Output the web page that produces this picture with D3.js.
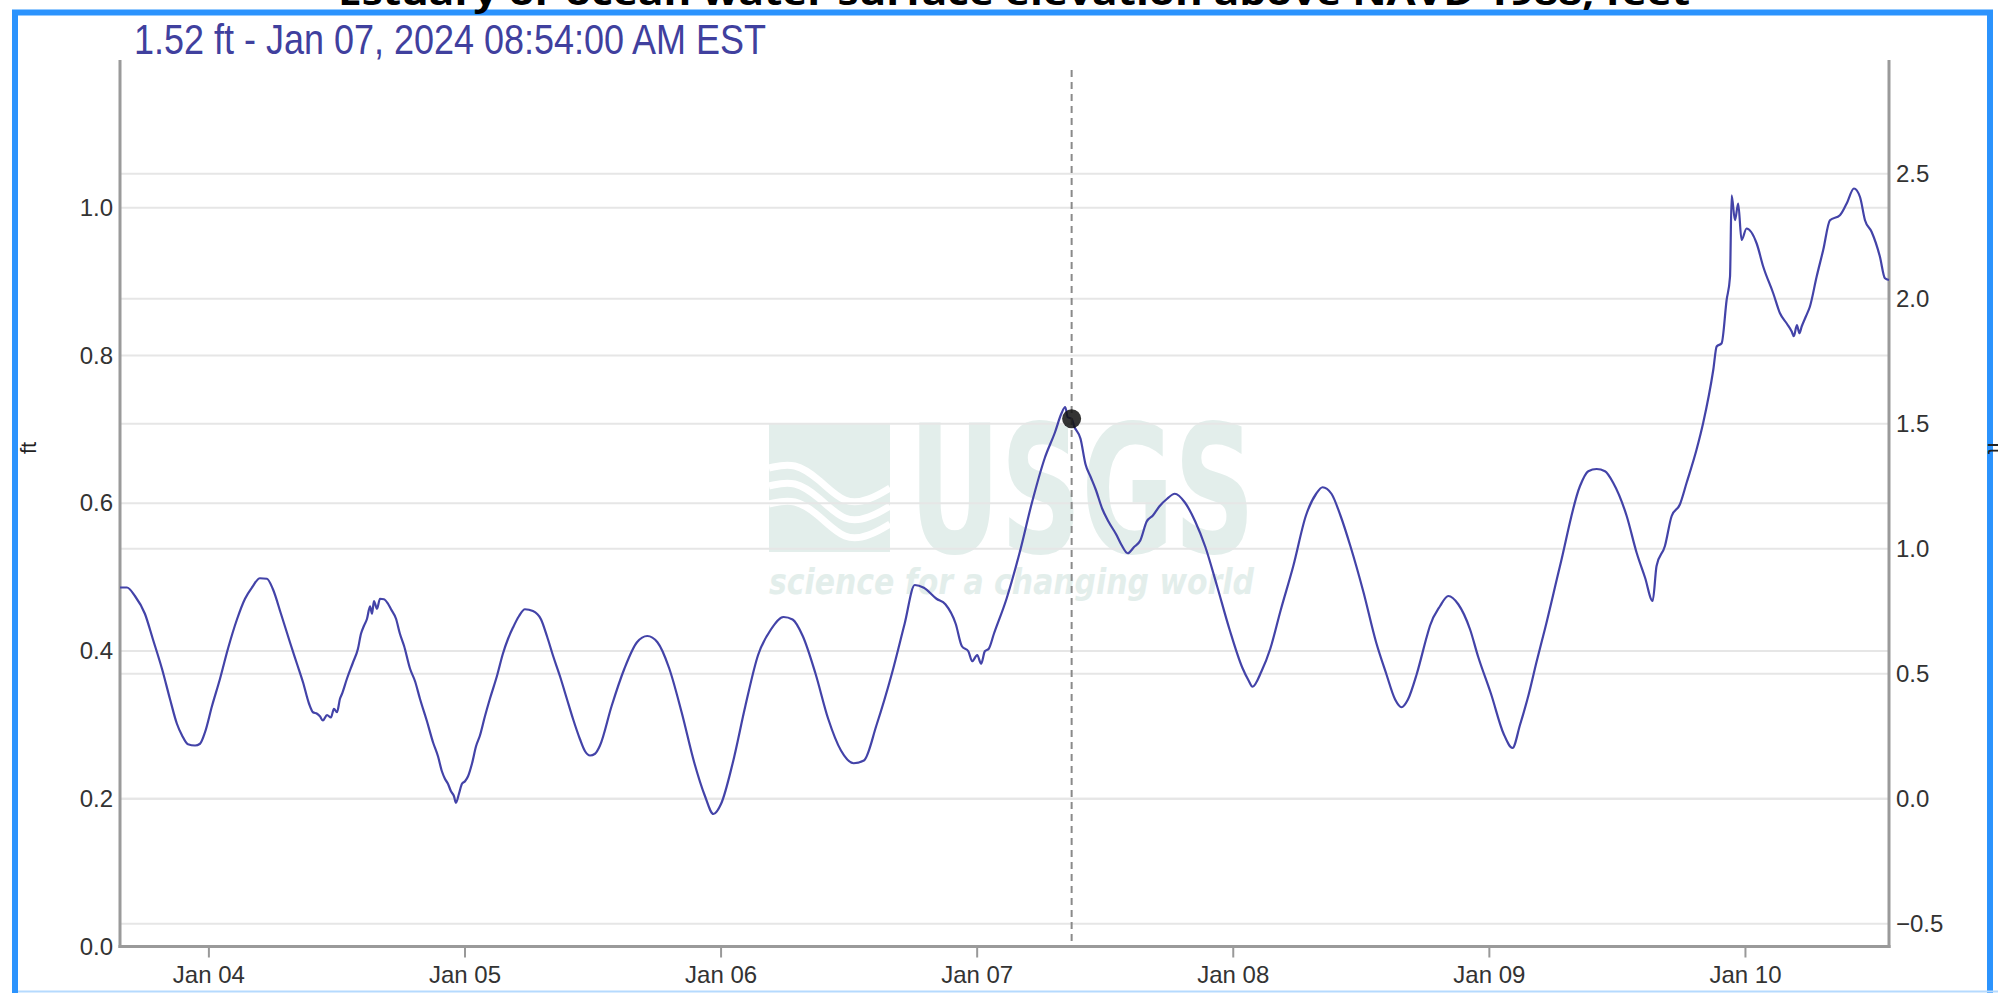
<!DOCTYPE html>
<html><head><meta charset="utf-8">
<script src="https://cdn.jsdelivr.net/npm/d3@7"></script>
<style>body{margin:0;background:#fff;overflow:hidden}svg{display:block}</style>
</head><body>
<svg id="chart" width="1998" height="993"></svg>
<script>
// ---------- data ----------
const titleText = "Estuary or ocean water surface elevation above NAVD 1988, feet";
const headerText = "1.52 ft - Jan 07, 2024 08:54:00 AM EST";
const unitLabel = "ft";
const markerTime = "01-07 08:54";
const markerValue = 1.52;
const xDomain = ["01-03 15:43", "01-10 13:30"];
const leftDomain = [0, 1.2];
const rightDomain = [-0.591, 2.955];
const leftTicks = [0, 0.2, 0.4, 0.6, 0.8, 1.0];
const rightTicks = [-0.5, 0, 0.5, 1.0, 1.5, 2.0, 2.5];
const xTicks = ["01-04 00:00","01-05 00:00","01-06 00:00","01-07 00:00","01-08 00:00","01-09 00:00","01-10 00:00"];

const times = [
"01-03 15:43","01-03 16:22","01-03 17:07","01-03 18:03","01-03 18:48","01-03 19:39","01-03 20:24","01-03 21:03","01-03 21:32","01-03 22:05",
"01-03 22:45","01-03 23:13","01-03 23:41","01-04 00:20","01-04 01:05","01-04 01:50","01-04 02:41","01-04 03:26","01-04 04:05","01-04 04:50",
"01-04 05:29","01-04 06:03","01-04 06:48","01-04 07:39","01-04 08:18","01-04 08:52","01-04 09:26","01-04 09:48","01-04 10:11","01-04 10:27",
"01-04 10:44","01-04 11:07","01-04 11:29","01-04 11:46","01-04 12:03","01-04 12:20","01-04 12:31","01-04 12:59","01-04 13:33","01-04 14:01",
"01-04 14:18","01-04 14:35","01-04 14:52","01-04 15:09","01-04 15:20","01-04 15:31","01-04 15:48","01-04 16:05","01-04 16:27","01-04 16:50",
"01-04 17:07","01-04 17:35","01-04 17:57","01-04 18:20","01-04 18:54","01-04 19:22","01-04 19:50","01-04 20:29","01-04 21:03","01-04 21:31",
"01-04 21:53","01-04 22:10","01-04 22:27","01-04 22:44","01-04 23:01","01-04 23:12","01-04 23:29","01-04 23:46","01-05 00:03","01-05 00:20",
"01-05 00:42","01-05 01:05","01-05 01:27","01-05 01:55","01-05 02:23","01-05 03:03","01-05 03:36","01-05 04:05","01-05 04:33","01-05 05:06",
"01-05 05:40","01-05 06:25","01-05 07:10","01-05 07:44","01-05 08:18","01-05 08:57","01-05 09:36","01-05 10:10","01-05 10:49","01-05 11:18",
"01-05 11:46","01-05 12:14","01-05 12:42","01-05 13:47","01-05 14:59","01-05 16:10","01-05 17:08","01-05 18:05","01-05 19:10","01-05 20:21",
"01-05 21:33","01-05 22:30","01-05 23:20","01-06 00:03","01-06 01:08","01-06 02:19","01-06 03:31","01-06 04:43","01-06 05:54","01-06 06:45",
"01-06 07:42","01-06 08:54","01-06 10:05","01-06 11:17","01-06 12:28","01-06 13:26","01-06 14:37","01-06 16:03","01-06 17:15","01-06 18:12",
"01-06 19:03","01-06 20:14","01-06 21:04","01-06 22:02","01-06 22:37","01-06 23:13","01-06 23:35","01-07 00:03","01-07 00:25","01-07 00:46",
"01-07 01:08","01-07 01:37","01-07 02:48","01-07 04:00","01-07 05:11","01-07 06:23","01-07 07:20","01-07 07:56","01-07 08:18","01-07 08:32",
"01-07 08:54","01-07 09:08","01-07 09:44","01-07 10:12","01-07 10:41","01-07 11:10","01-07 11:46","01-07 12:21","01-07 13:04","01-07 13:33",
"01-07 14:09","01-07 14:45","01-07 15:20","01-07 15:56","01-07 16:32","01-07 17:08","01-07 17:51","01-07 18:34","01-07 19:31","01-07 20:29",
"01-07 21:26","01-07 22:30","01-07 23:42","01-08 00:54","01-08 01:29","01-08 01:51","01-08 02:41","01-08 03:31","01-08 04:29","01-08 05:40",
"01-08 06:52","01-08 07:49","01-08 08:25","01-08 09:15","01-08 10:05","01-08 11:03","01-08 12:14","01-08 13:26","01-08 14:23","01-08 15:13",
"01-08 15:49","01-08 16:25","01-08 17:15","01-08 18:12","01-08 18:29","01-08 19:25","01-08 20:12","01-08 21:08","01-08 22:14","01-08 22:59",
"01-09 00:12","01-09 01:23","01-09 02:13","01-09 02:55","01-09 03:45","01-09 04:29","01-09 05:15","01-09 06:40","01-09 08:32","01-09 09:19",
"01-09 10:06","01-09 10:53","01-09 11:39","01-09 12:55","01-09 13:51","01-09 14:38","01-09 15:21","01-09 15:43","01-09 16:30","01-09 17:08",
"01-09 17:54","01-09 18:32","01-09 19:28","01-09 20:05","01-09 21:02","01-09 21:21","01-09 21:49","01-09 22:17","01-09 22:36","01-09 22:45",
"01-09 23:04","01-09 23:22","01-09 23:41","01-10 00:09","01-10 01:06","01-10 01:43","01-10 02:39","01-10 03:17","01-10 03:56","01-10 04:23",
"01-10 04:35","01-10 04:52","01-10 05:06","01-10 05:19","01-10 05:43","01-10 06:05","01-10 06:43","01-10 07:20","01-10 07:58","01-10 08:54",
"01-10 09:32","01-10 10:13","01-10 10:47","01-10 11:15","01-10 11:52","01-10 12:39","01-10 13:07","01-10 13:30"
];
const values = [
0.845,0.845,0.811,0.74,0.638,0.52,0.399,0.30,0.253,0.218,
0.213,0.22,0.266,0.37,0.479,0.60,0.718,0.80,0.845,0.882,
0.88,0.838,0.74,0.625,0.54,0.466,0.38,0.346,0.34,0.33,
0.313,0.335,0.325,0.36,0.346,0.40,0.419,0.48,0.545,0.60,
0.66,0.692,0.72,0.77,0.74,0.791,0.76,0.80,0.798,0.78,
0.758,0.72,0.66,0.612,0.52,0.47,0.399,0.31,0.226,0.17,
0.11,0.08,0.06,0.03,0.01,-0.016,0.02,0.06,0.07,0.09,
0.14,0.21,0.253,0.33,0.40,0.492,0.58,0.64,0.685,0.73,
0.758,0.751,0.718,0.65,0.572,0.49,0.399,0.32,0.239,0.19,
0.173,0.18,0.213,0.37,0.52,0.626,0.651,0.626,0.524,0.346,
0.142,0.015,-0.061,-0.02,0.142,0.37,0.575,0.677,0.727,0.717,
0.651,0.5,0.32,0.193,0.142,0.153,0.295,0.5,0.70,0.855,
0.844,0.80,0.778,0.70,0.61,0.59,0.55,0.575,0.54,0.59,
0.60,0.66,0.80,0.98,1.185,1.363,1.465,1.54,1.567,1.526,
1.52,1.49,1.44,1.338,1.287,1.236,1.16,1.109,1.058,1.017,
0.982,1.007,1.033,1.109,1.134,1.17,1.2,1.22,1.185,1.109,
1.007,0.855,0.677,0.524,0.473,0.448,0.509,0.60,0.753,0.93,
1.134,1.22,1.246,1.22,1.134,1.007,0.829,0.626,0.5,0.397,
0.366,0.397,0.5,0.651,0.692,0.77,0.811,0.778,0.678,0.57,
0.42,0.26,0.203,0.295,0.42,0.55,0.678,0.931,1.25,1.31,
1.319,1.31,1.264,1.131,0.984,0.885,0.791,0.931,1.011,1.131,
1.177,1.264,1.397,1.503,1.716,1.809,1.822,1.995,2.088,2.414,
2.314,2.381,2.235,2.281,2.221,2.128,2.022,1.942,1.90,1.869,
1.85,1.895,1.862,1.889,1.93,1.968,2.088,2.195,2.314,2.334,
2.381,2.441,2.407,2.314,2.268,2.168,2.082,2.075
];

// ---------- setup ----------
const parse = s => d3.utcParse("%Y-%m-%d %H:%M")("2024-" + s);
const data = times.map((t, i) => ({t: parse(t), v: values[i]}));
const svg = d3.select("#chart");
const L = 120, R = 1889, T = 60, B = 946.5;

const x = d3.scaleUtc().domain(xDomain.map(parse)).range([L, R]);
const yL = d3.scaleLinear().domain(leftDomain).range([B, T]);
const yR = d3.scaleLinear().domain(rightDomain).range([B, T]);

// frame
svg.append("rect").attr("x", 15).attr("y", 12.5).attr("width", 1975).attr("height", 985)
  .attr("fill", "none").attr("stroke", "#2b93fd").attr("stroke-width", 6);
svg.append("line").attr("x1", 18).attr("x2", 1998).attr("y1", 991.5).attr("y2", 991.5)
  .attr("stroke", "#b5dafe").attr("stroke-width", 2);

// title (clipped at top)
svg.append("text").attr("x", 338).attr("y", 5)
  .attr("textLength", 1352).attr("lengthAdjust", "spacingAndGlyphs")
  .style("font-family", "'Open Sans', 'DejaVu Sans', sans-serif").style("font-weight", 700)
  .style("font-size", "36px").attr("fill", "#000").text(titleText);

// watermark
const wm = svg.append("g").attr("fill", "#e3eeeb");
wm.append("rect").attr("x", 769).attr("y", 423).attr("width", 121).attr("height", 129);
const wave = d3.line().curve(d3.curveBasis);
[0, 18, 36].forEach(dy => {
  wm.append("path")
    .attr("d", wave([[769, 468 + dy], [795, 462 + dy], [820, 480 + dy], [845, 505 + dy], [870, 500 + dy], [890, 488 + dy]]))
    .attr("fill", "none").attr("stroke", "#fff").attr("stroke-width", 7);
});
wm.append("text").attr("x", 909).attr("y", 552).attr("textLength", 346).attr("lengthAdjust", "spacingAndGlyphs")
  .style("font-family", "'DejaVu Sans Condensed', 'DejaVu Sans', sans-serif").style("font-weight", 700)
  .style("font-size", "178px").text("USGS");
wm.append("text").attr("x", 769).attr("y", 594).attr("textLength", 485).attr("lengthAdjust", "spacingAndGlyphs")
  .style("font-family", "'DejaVu Sans', sans-serif").style("font-weight", 700).style("font-style", "italic")
  .style("font-size", "36px").text("science for a changing world");

// gridlines
const grid = svg.append("g").attr("stroke", "#e6e6e6").attr("stroke-width", 2);
grid.selectAll("line.gl").data(leftTicks).join("line")
  .attr("x1", L).attr("x2", R).attr("y1", d => yL(d)).attr("y2", d => yL(d));
grid.selectAll("line.gr").data(rightTicks).join("line").attr("class", "gr")
  .attr("x1", L).attr("x2", R).attr("y1", d => yR(d)).attr("y2", d => yR(d));

// axes
const fmt = d3.format(".1f");
const tickFont = g => g.selectAll("text").style("font-family", "'Liberation Sans', Arial, sans-serif")
  .style("font-size", "24px").attr("fill", "#333");

const gl = svg.append("g").attr("transform", `translate(${L},0)`)
  .call(d3.axisLeft(yL).tickValues(leftTicks).tickFormat(fmt).tickSize(0).tickPadding(7));
gl.select(".domain").remove(); gl.call(tickFont);

const gr = svg.append("g").attr("transform", `translate(${R},0)`)
  .call(d3.axisRight(yR).tickValues(rightTicks).tickFormat(fmt).tickSize(0).tickPadding(7));
gr.select(".domain").remove(); gr.call(tickFont);

const gx = svg.append("g").attr("transform", `translate(0,${B})`)
  .call(d3.axisBottom(x).tickValues(xTicks.map(parse)).tickFormat(d3.utcFormat("%b %d")).tickSize(11).tickPadding(8));
gx.select(".domain").remove();
gx.selectAll("line").attr("stroke", "#999").attr("stroke-width", 2);
gx.call(tickFont);

const axisStroke = {stroke: "#9a9a9a", w: 3};
svg.append("line").attr("x1", L).attr("x2", L).attr("y1", T).attr("y2", B + 1.5)
  .attr("stroke", axisStroke.stroke).attr("stroke-width", axisStroke.w);
svg.append("line").attr("x1", R).attr("x2", R).attr("y1", T).attr("y2", B + 1.5)
  .attr("stroke", axisStroke.stroke).attr("stroke-width", axisStroke.w);
svg.append("line").attr("x1", L - 1.5).attr("x2", R + 1.5).attr("y1", B).attr("y2", B)
  .attr("stroke", axisStroke.stroke).attr("stroke-width", axisStroke.w);

// axis titles
svg.append("text").attr("transform", `translate(36,448) rotate(-90)`).attr("text-anchor", "middle")
  .style("font-family", "'Liberation Sans', Arial, sans-serif").style("font-size", "22px").attr("fill", "#222").text(unitLabel);
svg.append("text").attr("transform", `translate(1988,448) rotate(90)`).attr("text-anchor", "middle")
  .style("font-family", "'Liberation Sans', Arial, sans-serif").style("font-size", "22px").attr("fill", "#222").text(unitLabel);

// data line
svg.append("path").datum(data)
  .attr("d", d3.line().x(d => x(d.t)).y(d => yR(d.v)).curve(d3.curveMonotoneX))
  .attr("fill", "none").attr("stroke", "#4343a8").attr("stroke-width", 2.2).attr("stroke-linejoin", "round");

// crosshair + marker
const mx = x(parse(markerTime));
svg.append("line").attr("x1", mx).attr("x2", mx).attr("y1", 70).attr("y2", B - 1.5)
  .attr("stroke", "#8a8a8a").attr("stroke-width", 2).attr("stroke-dasharray", "7,5");
svg.append("circle").attr("cx", mx).attr("cy", yR(markerValue)).attr("r", 9.5)
  .attr("fill", "#111").attr("fill-opacity", 0.85);

// header
svg.append("text").attr("x", 134).attr("y", 54).attr("textLength", 632).attr("lengthAdjust", "spacingAndGlyphs")
  .style("font-family", "'Liberation Sans Narrow', 'Liberation Sans', Arial, sans-serif")
  .style("font-size", "42px").attr("fill", "#40409e").text(headerText);
</script>
</body></html>
